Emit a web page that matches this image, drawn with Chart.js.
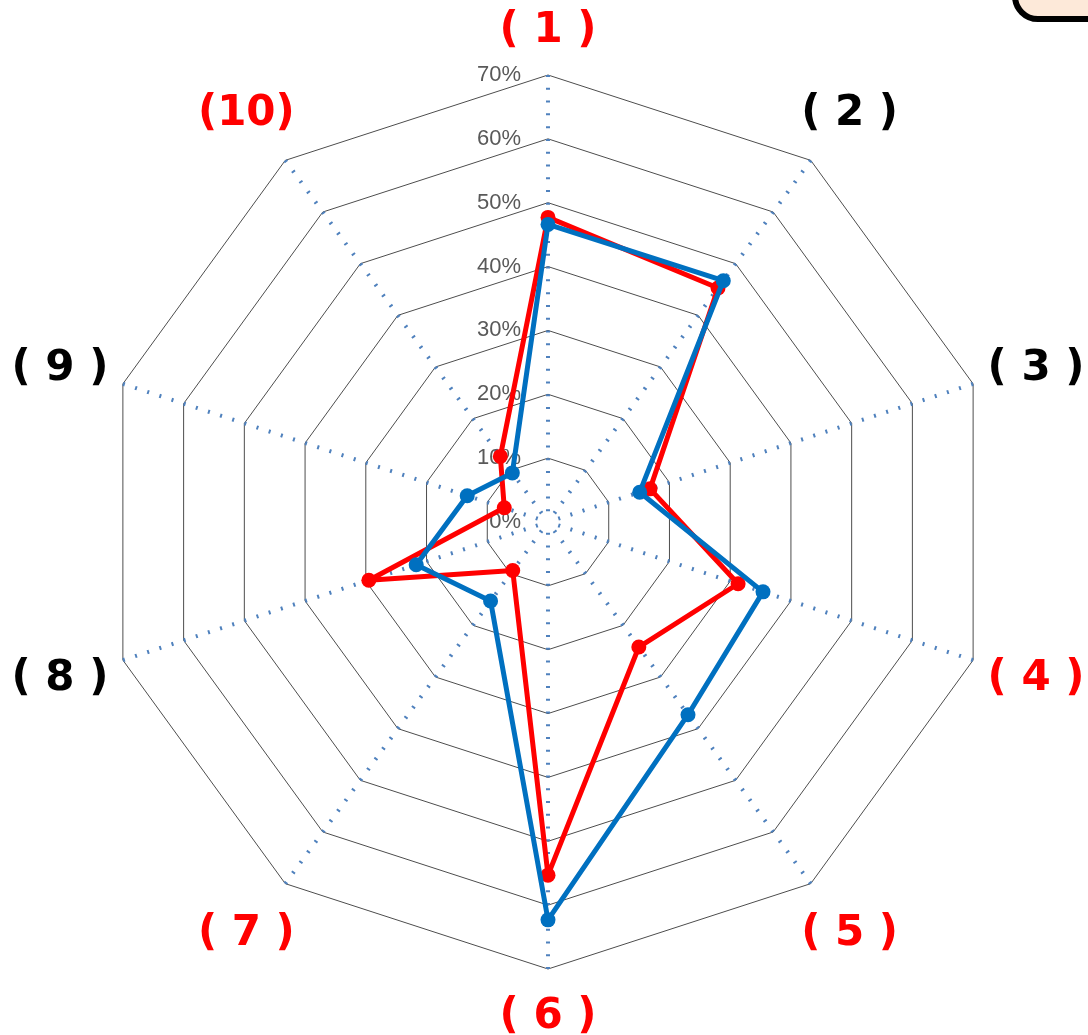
<!DOCTYPE html>
<html>
<head>
<meta charset="utf-8">
<script src="https://cdn.jsdelivr.net/npm/chart.js@4.4.1/dist/chart.umd.min.js"></script>
<style>
  html, body { margin: 0; padding: 0; background: #fff; overflow: hidden; }
  #wrap { position: relative; width: 1088px; height: 1035px; }
  #corner {
    position: absolute; left: 1012px; top: -40px; width: 130px; height: 62px;
    box-sizing: border-box; border: 6px solid #000; border-radius: 26px; background: #fde9d9;
  }
</style>
</head>
<body>
<div id="wrap">
  <canvas id="radar-chart" width="1088" height="1035"></canvas>
  <div id="corner"></div>
</div>
<script>
const categories = ['( 1 )', '( 2 )', '( 3 )', '( 4 )', '( 5 )', '( 6 )', '( 7 )', '( 8 )', '( 9 )', '(10)'];
const redSeries = [47.7, 45.3, 16.8, 31.3, 24.2, 55.3, 9.4, 29.5, 7.2, 12.7];
const blueSeries = [46.6, 46.7, 15.1, 35.4, 37.3, 62.3, 15.3, 21.7, 13.3, 9.5];
const tickValues = [0, 10, 20, 30, 40, 50, 60, 70];

// which category labels are printed in red
const redLabels = [true, false, false, true, true, true, true, false, false, true];

// pin the radar to where it sits in the picture
const fixGeometry = {
  id: 'fixGeometry',
  afterLayout(chart) {
    const r = chart.scales.r;
    r.xCenter = 548;
    r.yCenter = 522;
    r.drawingArea = 447;
  }
};

// percent ticks sit just left of the top axis
const tickText = {
  id: 'tickText',
  beforeDatasetsDraw(chart) {
    const r = chart.scales.r;
    const ctx = chart.ctx;
    ctx.save();
    ctx.font = '22px "Liberation Sans", Arial, sans-serif';
    ctx.fillStyle = '#595959';
    ctx.textAlign = 'right';
    ctx.textBaseline = 'middle';
    tickValues.forEach(v => {
      const y = r.yCenter - r.getDistanceFromCenterForValue(v);
      ctx.fillText(v + '%', r.xCenter - 27, y);
    });
    ctx.restore();
  }
};

const pointText = {
  id: 'pointText',
  afterDraw(chart) {
    const r = chart.scales.r;
    const ctx = chart.ctx;
    ctx.save();
    ctx.font = 'bold 42px "DejaVu Sans", sans-serif';
    ctx.textAlign = 'center';
    ctx.textBaseline = 'middle';
    categories.forEach((text, i) => {
      const a = r.getIndexAngle(i);
      const dx = Math.sin(a), dy = -Math.cos(a);
      const edge = r.getPointPosition(i, r.drawingArea);
      const w = ctx.measureText(text).width;
      // push out from the outer corner, a bit more on the diagonals
      const ox = dx * (25 + w / 2 * 0.85);
      const oy = dy * (46 + 14 * Math.abs(Math.sin(2 * a))) + 2;
      ctx.fillStyle = redLabels[i] ? '#ff0000' : '#000000';
      ctx.fillText(text, edge.x + ox, edge.y + oy);
    });
    ctx.restore();
  }
};

const ctx = document.getElementById('radar-chart').getContext('2d');

new Chart(ctx, {
  type: 'radar',
  data: {
    labels: categories,
    datasets: [{
      label: 'Red',
      data: redSeries,
      borderColor: '#ff0000',
      backgroundColor: '#ff0000',
      pointBackgroundColor: '#ff0000',
      borderWidth: 5,
      pointRadius: 7.5,
      pointBorderWidth: 0,
      borderJoinStyle: 'round',
      fill: false,
      order: 1
    }, {
      label: 'Blue',
      data: blueSeries,
      borderColor: '#0070c0',
      backgroundColor: '#0070c0',
      pointBackgroundColor: '#0070c0',
      borderWidth: 5,
      pointRadius: 7.5,
      pointBorderWidth: 0,
      borderJoinStyle: 'round',
      fill: false,
      order: 0
    }]
  },
  options: {
    responsive: false,
    animation: false,
    layout: { padding: 0 },
    plugins: {
      legend: { display: false },
      tooltip: { enabled: false }
    },
    scales: {
      r: {
        min: 0,
        max: 70,
        ticks: { stepSize: 10, display: false },
        pointLabels: { display: false },
        grid: { color: '#4d4d4d', lineWidth: 1 },
        angleLines: {
          color: '#4f81bd',
          lineWidth: 4,
          borderDash: [2, 10.77],
          borderDashOffset: 2
        }
      }
    }
  },
  plugins: [fixGeometry, tickText, pointText]
});
</script>
</body>
</html>
